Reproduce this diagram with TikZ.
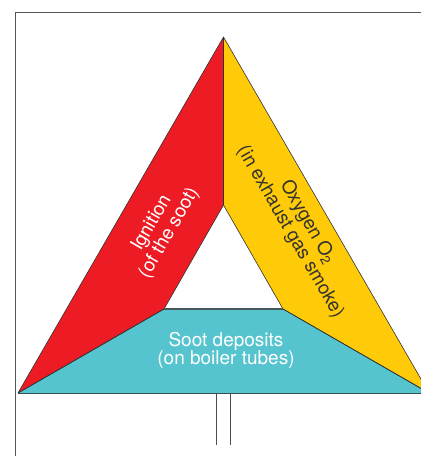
\documentclass[tikz,border=0pt]{standalone}
\usepackage{fontspec}
\setmainfont{TeX Gyre Heros}
\definecolor{fireRed}{RGB}{237,28,36}
\definecolor{oxyYellow}{RGB}{255,202,8}
\definecolor{sootCyan}{RGB}{85,196,206}
\definecolor{edgeDark}{RGB}{50,50,50}
\definecolor{frameGray}{RGB}{85,85,85}
\begin{document}
\begin{tikzpicture}[x=1pt,y=-1pt,
  facet/.style={draw=edgeDark,line width=0.6pt,line join=round},
  label/.style={inner sep=0pt,align=center,font=\fontsize{19}{18}\selectfont},
  slanted/.style={label,font=\fontsize{19}{20}\selectfont},
  frameline/.style={draw=frameGray,line width=0.9pt},
  stem/.style={draw=gray!60!black,line width=0.9pt}]
\useasboundingbox (0,0) rectangle (421,456);
\clip (0,0) rectangle (421,456);

% corners of the outer and inner triangles
\coordinate (apex) at (223.5,37);
\coordinate (bl)   at (18,393);
\coordinate (br)   at (429,393);
\coordinate (itop) at (223.5,205);
\coordinate (ibl)  at (164,309);
\coordinate (ibr)  at (283,309);

% frame
\draw[frameline] (450,12.5) -- (15,12.5) -- (15,470);

% the three facets
\fill[fireRed]   (apex) -- (itop) -- (ibl) -- (bl) -- cycle;
\fill[oxyYellow] (apex) -- (br) -- (ibr) -- (itop) -- cycle;
\fill[sootCyan]  (bl) -- (ibl) -- (ibr) -- (br) -- cycle;
\draw[facet] (apex) -- (itop) -- (ibl) -- (bl) -- cycle;
\draw[facet] (apex) -- (br) -- (ibr) -- (itop);
\draw[facet] (ibl) -- (bl);
\draw[facet] (ibr) -- (br);
\draw[draw=gray!70!sootCyan!60!black,line width=1.1pt] (ibl) -- (ibr);
\draw[draw=edgeDark!80!sootCyan,line width=1pt] (bl) -- (br);

% stems below the base
\coordinate (s1top) at (216.5,393);
\coordinate (s1bot) at (216.5,445);
\coordinate (s2top) at (230.5,393);
\coordinate (s2bot) at (230.5,445);
\draw[stem] (s1top) -- (s1bot);
\draw[stem] (s2top) -- (s2bot);

% labels
\node[slanted,text=white,rotate=60] (ignition) at (160.5,228)
  {Ignition\\(of the soot)};
\node[slanted,text=black!80,rotate=-60] (oxygen) at (299,227)
  {Oxygen O\textsubscript{2}\\(in exhaust gas smoke)};
\node[label,text=white] (soot) at (226,350.5)
  {Soot deposits\\(on boiler tubes)};
\end{tikzpicture}
\end{document}
